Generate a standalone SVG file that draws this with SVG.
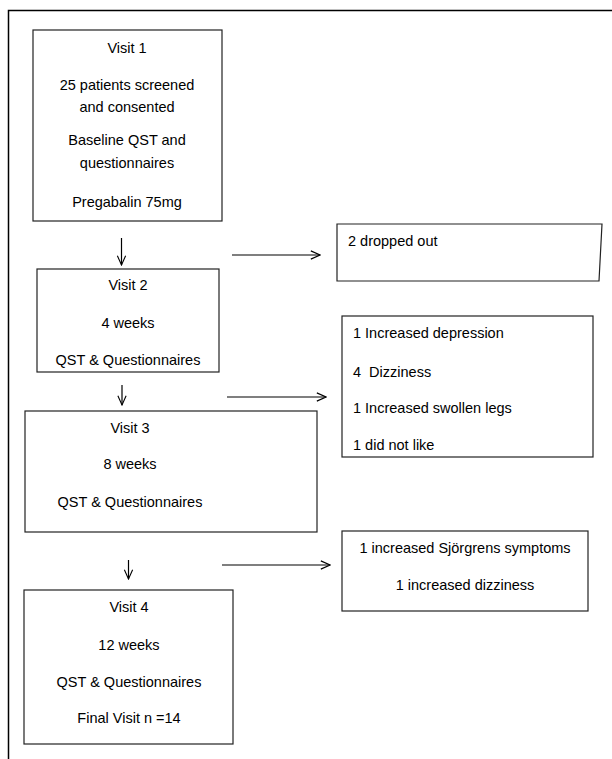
<svg xmlns="http://www.w3.org/2000/svg" width="612" height="759" viewBox="0 0 612 759">
<style>
.box{fill:#fff;stroke:#222;stroke-width:1.2}
.t{font-family:"Liberation Sans",Arial,sans-serif;font-size:14.5px;fill:#000;white-space:pre}
.c{text-anchor:middle}
.ln{stroke:#000;stroke-width:1.2;fill:none}
</style>
<defs>
<marker id="ah" viewBox="0 0 12 12" refX="11" refY="6" markerWidth="11" markerHeight="11" markerUnits="userSpaceOnUse" orient="auto">
<path d="M1,1.5 L11,6 L1,10.5" fill="none" stroke="#000" stroke-width="1.2"/>
</marker>
</defs>
<rect width="612" height="759" fill="#fff"/>
<path d="M8.5,759 V10.5 H612" fill="none" stroke="#000" stroke-width="1.5"/>
<g id="visit1">
<rect class="box" x="33" y="30" width="189" height="191"/>
<text class="t c" x="127" y="53">Visit 1</text>
<text class="t c" x="127" y="90">25 patients screened</text>
<text class="t c" x="127" y="112">and consented</text>
<text class="t c" x="127" y="145">Baseline QST and</text>
<text class="t c" x="127" y="168">questionnaires</text>
<text class="t c" x="127" y="207">Pregabalin 75mg</text>
</g>
<g id="visit2">
<rect class="box" x="37" y="269" width="182" height="103"/>
<text class="t c" x="128" y="290">Visit 2</text>
<text class="t c" x="128" y="328">4 weeks</text>
<text class="t c" x="128" y="365">QST &amp; Questionnaires</text>
</g>
<g id="visit3">
<rect class="box" x="25" y="411" width="292" height="121"/>
<text class="t c" x="130" y="433">Visit 3</text>
<text class="t c" x="130" y="469">8 weeks</text>
<text class="t c" x="130" y="507">QST &amp; Questionnaires</text>
</g>
<g id="visit4">
<rect class="box" x="24" y="590" width="209" height="154"/>
<text class="t c" x="129" y="612">Visit 4</text>
<text class="t c" x="129" y="650">12 weeks</text>
<text class="t c" x="129" y="687">QST &amp; Questionnaires</text>
<text class="t c" x="129" y="723">Final Visit n =14</text>
</g>
<g id="dropped">
<path class="box" d="M337,224 H602 L599,281 H337 Z"/>
<text class="t" x="348" y="246">2 dropped out</text>
</g>
<g id="reasons2">
<rect class="box" x="342" y="316" width="251" height="141"/>
<text class="t" x="353" y="338">1 Increased depression</text>
<text class="t" x="353" y="377" xml:space="preserve">4  Dizziness</text>
<text class="t" x="353" y="413">1 Increased swollen legs</text>
<text class="t" x="353" y="450">1 did not like</text>
</g>
<g id="reasons3">
<rect class="box" x="342" y="531" width="246" height="80"/>
<text class="t c" x="465" y="553">1 increased Sjörgrens symptoms</text>
<text class="t c" x="465" y="590">1 increased dizziness</text>
</g>
<g id="connectors">
<line class="ln" x1="121.5" y1="238" x2="121.5" y2="265" marker-end="url(#ah)"/>
<line class="ln" x1="122" y1="385" x2="122" y2="405" marker-end="url(#ah)"/>
<line class="ln" x1="128.5" y1="560" x2="128.5" y2="579" marker-end="url(#ah)"/>
<line class="ln" x1="232" y1="255" x2="320" y2="255" marker-end="url(#ah)"/>
<line class="ln" x1="227" y1="397" x2="326" y2="397" marker-end="url(#ah)"/>
<line class="ln" x1="222" y1="565" x2="330" y2="565" marker-end="url(#ah)"/>
</g>
</svg>
